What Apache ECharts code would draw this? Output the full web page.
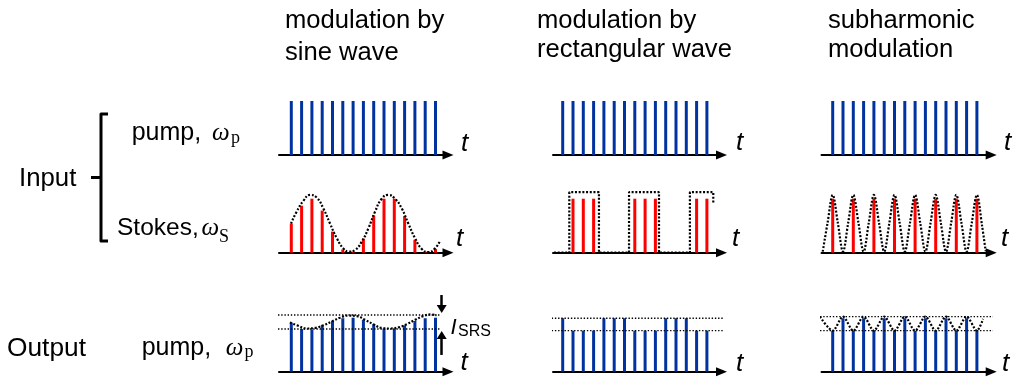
<!DOCTYPE html>
<html><head><meta charset="utf-8">
<script src="https://cdn.jsdelivr.net/npm/echarts@6/dist/echarts.min.js"></script>
<style>html,body{margin:0;padding:0;background:#fff}#c{width:1013px;height:381px}</style>
</head><body><div id="c"></div>
<script>
// ---------------- data (pulse index on x, relative amplitude on y; pump pulse = 1) ----------------
const titles = [["modulation by", "sine wave"], ["modulation by", "rectangular wave"], ["subharmonic", "modulation"]];
const pumpIdx = [0,1,2,3,4,5,6,7,8,9,10,11,12,13,14];
const pumpInput = [1,1,1,1,1,1,1,1,1,1,1,1,1,1,1];

// column 1: sine modulation
const sineStokes = [0.54,0.87,1.0,0.78,0.39,0.06,0.02,0.26,0.69,1.0,1.0,0.68,0.24,0.02,0.07];
const sineEnvX = [-0.03,0.52,1.17,1.82,2.47,3.11,3.76,4.41,5.05,5.6,6.18,6.83,7.48,8.13,8.78,9.42,10.07,10.72,11.36,12.01,12.66,13.3,13.95,14.44];
const sineEnvY = [0.54,0.76,0.96,1.07,1.02,0.82,0.54,0.27,0.08,0.02,0.05,0.2,0.45,0.76,1.0,1.07,1.0,0.82,0.54,0.27,0.07,0.01,0.08,0.22];
const sineOutput = [0.91,0.79,0.78,0.86,0.94,0.99,1.0,0.96,0.88,0.8,0.79,0.86,0.94,0.99,1.0];
const sineOutEnvX = [-0.13,0.68,1.49,2.3,3.11,3.92,4.73,5.53,6.35,7.16,7.96,8.78,9.58,10.39,11.2,12.01,12.82,13.63,14.1];
const sineOutEnvY = [0.91,0.85,0.8,0.81,0.86,0.93,1.0,1.04,1.03,0.96,0.88,0.81,0.8,0.82,0.88,0.96,1.03,1.06,1.04];
const sineLevels = {x: [-1.29, 14.44], hi: 1.05, lo: 0.79};
const srsArrowX = 14.6;
const srsDown = [1.42, 1.16];
const srsUp = [0.31, 0.68];

// column 2: rectangular modulation
const rectStokesIdx = [1,2,3,7,8,9,13,14];
const rectStokes = [1,1,1,1,1,1,1,1];
const rectEnvX = [-0.84,0.64,0.64,3.52,3.52,6.44,6.44,9.35,9.35,12.35,12.35,14.62,14.62];
const rectEnvY = [0,0,1.12,1.12,0,0,1.12,1.12,0,0,1.12,1.12,0.92];
const rectOutput = [0.99,0.76,0.76,0.76,0.99,0.99,0.99,0.76,0.76,0.76,0.99,0.99,0.99,0.76,0.76];
const rectLevels = {x: [-1.07, 15.66], hi: 0.99, lo: 0.76};

// column 3: subharmonic modulation
const subStokesIdx = [0,2,4,6,8,10,12,14];
const subStokes = [1,1,1,1,1,1,1,1];
const subEnvX = [-0.97,-0.5,0,0.5,1,1.5,2,2.5,3,3.5,4,4.5,5,5.5,6,6.5,7,7.5,8,8.5,9,9.5,10,10.5,11,11.5,12,12.5,13,13.5,14,14.5,14.85];
const subEnvY = [0.02,0.55,1.07,0.55,0.02,0.55,1.07,0.55,0.02,0.55,1.07,0.55,0.02,0.55,1.07,0.55,0.02,0.55,1.07,0.55,0.02,0.55,1.07,0.55,0.02,0.55,1.07,0.55,0.02,0.55,1.07,0.5,0.03];
const subOutput = [0.76,0.99,0.76,0.99,0.76,0.99,0.76,0.99,0.76,0.99,0.76,0.99,0.76,0.99,0.76];
const subOutEnvX = [-1.23,0,1,2,3,4,5,6,7,8,9,10,11,12,13,14,14.6];
const subOutEnvY = [1.02,0.76,1.02,0.76,1.02,0.76,1.02,0.76,1.02,0.76,1.02,0.76,1.02,0.76,1.02,0.76,0.98];
const subLevels = {x: [-1.23, 15.6], hi: 1.02, lo: 0.76};

// ---------------- layout ----------------
const BLUE = '#0033a0', RED = '#ff0000';
const DX = 10.3, PX = 54, YMAX = 1.6, H = YMAX * PX;
const cols = [{x0: 291.3, start: 279, tip: 453.5}, {x0: 562.7, start: 553, tip: 727}, {x0: 832.7, start: 821.5, tip: 996.7}];
const rowsY = [155, 252.7, 371.7];

const grids = [], xAxes = [], yAxes = [], series = [];
rowsY.forEach((ay, r) => cols.forEach((c, ci) => {
  const end = c.tip - 5.5;
  grids.push({left: c.start, top: ay - H, width: end - c.start, height: H});
  const gi = grids.length - 1;
  xAxes.push({type: 'value', gridIndex: gi, min: (c.start - c.x0) / DX, max: (end - c.x0) / DX,
    axisLine: {show: true, onZero: false, symbol: ['none', 'triangle'], symbolSize: [9, 11], lineStyle: {color: '#000', width: 2}},
    axisTick: {show: false}, axisLabel: {show: false}, splitLine: {show: false}});
  yAxes.push({type: 'value', gridIndex: gi, min: 0, max: YMAX, show: false, splitLine: {show: false}});
}));
const gidx = (r, c) => r * 3 + c;
const pairs = (xs, ys) => xs.map((x, i) => [x, ys[i]]);

function bars(r, c, xs, ys, color) {
  series.push({type: 'bar', xAxisIndex: gidx(r, c), yAxisIndex: gidx(r, c), data: pairs(xs, ys),
    barWidth: 3, itemStyle: {color}, clip: false, silent: true, z: 2});
  return series[series.length - 1];
}
function dots(r, c, xs, ys, smooth, thin) {
  series.push({type: 'line', xAxisIndex: gidx(r, c), yAxisIndex: gidx(r, c), data: pairs(xs, ys),
    smooth: smooth, symbol: 'none', clip: false, silent: true, z: 4,
    lineStyle: thin ? {color: '#000', width: 1.4, type: [1.4, 1.8]} : {color: '#000', width: 2.2, type: [2, 1.7]}});
}
function levels(r, c, L) {
  dots(r, c, L.x, [L.hi, L.hi], false, true);
  dots(r, c, L.x, [L.lo, L.lo], false, true);
}

// row 1: pump input
for (let c = 0; c < 3; c++) bars(0, c, pumpIdx, pumpInput, BLUE);
// row 2: Stokes input
bars(1, 0, pumpIdx, sineStokes, RED); dots(1, 0, sineEnvX, sineEnvY, 0.5);
bars(1, 1, rectStokesIdx, rectStokes, RED); dots(1, 1, rectEnvX, rectEnvY, false);
bars(1, 2, subStokesIdx, subStokes, RED); dots(1, 2, subEnvX, subEnvY, 0.35);
// row 3: pump output
const outSine = bars(2, 0, pumpIdx, sineOutput, BLUE);
outSine.markLine = {silent: true, animation: false, symbol: ['none', 'triangle'], symbolSize: [10, 8],
  label: {show: false}, emphasis: {disabled: true},
  lineStyle: {color: '#000', width: 2.5, type: 'solid'},
  data: [[{coord: [srsArrowX, srsDown[0]]}, {coord: [srsArrowX, srsDown[1]]}],
         [{coord: [srsArrowX, srsUp[0]]}, {coord: [srsArrowX, srsUp[1]]}]]};
levels(2, 0, sineLevels); dots(2, 0, sineOutEnvX, sineOutEnvY, 0.5);
bars(2, 1, pumpIdx, rectOutput, BLUE); levels(2, 1, rectLevels);
bars(2, 2, pumpIdx, subOutput, BLUE); levels(2, 2, subLevels); dots(2, 2, subOutEnvX, subOutEnvY, 0.3);

// ---------------- text ----------------
const SANS = '"Liberation Sans", Arial, sans-serif', SERIF = '"Liberation Serif", "Times New Roman", serif';
const txt = (x, y, text, font) => ({type: 'text', x, y, silent: true, z: 10,
  style: {text, font, fill: '#000', align: 'left', verticalAlign: 'middle'}});
const els = [];
const titleX = [285, 537, 828], titleY = [[21.3, 53], [20.6, 49.6], [20.6, 49.6]];
titles.forEach((t, i) => { els.push(txt(titleX[i], titleY[i][0], t[0], '25.6px ' + SANS)); els.push(txt(titleX[i], titleY[i][1], t[1], '25.6px ' + SANS)); });
els.push(txt(19, 179.3, 'Input', '25.8px ' + SANS));
els.push(txt(7, 348.3, 'Output', '26.3px ' + SANS));
els.push(txt(131.7, 133.3, 'pump,', '25px ' + SANS));
els.push(txt(212, 133.3, 'ω', 'italic 25px ' + SERIF));
els.push(txt(231, 137.8, 'p', '18px ' + SERIF));
els.push(txt(117, 228, 'Stokes,', '24.5px ' + SANS));
els.push(txt(201.5, 228, 'ω', 'italic 25px ' + SERIF));
els.push(txt(219, 237, 'S', '18px ' + SERIF));
els.push(txt(141.7, 348.3, 'pump,', '25px ' + SANS));
els.push(txt(225.7, 348.3, 'ω', 'italic 25px ' + SERIF));
els.push(txt(244.5, 352.5, 'p', '18px ' + SERIF));
const tPos = [[461, 144], [736, 143], [1004, 142.7], [456, 239], [732, 239], [1001, 239], [460.5, 363], [736, 364], [1002, 364]];
tPos.forEach(p => els.push(txt(p[0], p[1], 't', 'italic 26px ' + SANS)));
els.push(txt(450.5, 327.4, 'I', 'italic 22px ' + SANS));
els.push(txt(458, 331.5, 'SRS', '16px ' + SANS));
// bracket
els.push({type: 'polyline', silent: true, shape: {points: [[108, 114], [101, 114], [101, 241], [108, 241]]},
  style: {stroke: '#000', lineWidth: 3, fill: null, lineJoin: 'round'}});
els.push({type: 'line', silent: true, shape: {x1: 91, y1: 177.5, x2: 101, y2: 177.5}, style: {stroke: '#000', lineWidth: 3}});

const chart = echarts.init(document.getElementById('c'), null, {renderer: 'canvas'});
chart.setOption({animation: false, backgroundColor: '#fff', grid: grids, xAxis: xAxes, yAxis: yAxes, series, graphic: {elements: els}});
</script></body></html>
